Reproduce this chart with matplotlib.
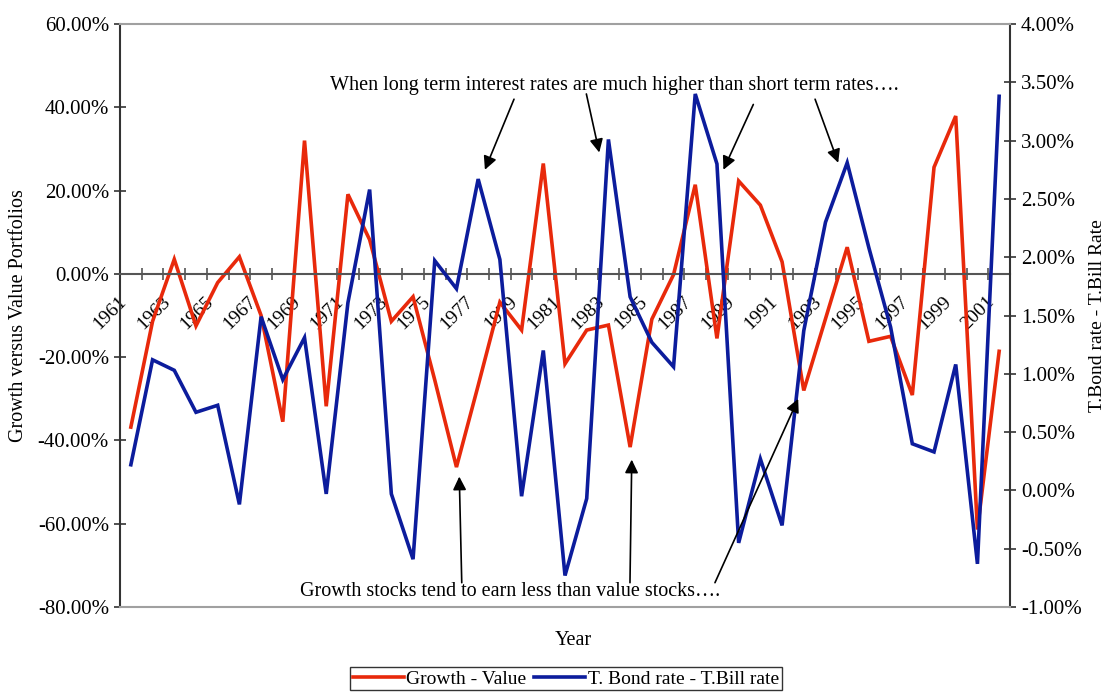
import numpy as np
import matplotlib
matplotlib.use("Agg")
import matplotlib.pyplot as plt
import matplotlib.transforms as mtransforms
from matplotlib.ticker import FuncFormatter

plt.rcParams['font.family'] = ['Liberation Serif', 'DejaVu Serif']

years = list(range(1961, 2002))

# Growth minus value portfolio returns (%)
growth_value = [-36.8, -11.4, 3.5, -12.5, -2.1, 4.1, -10.0, -35.5, 32.0, -31.8,
                19.1, 8.2, -11.4, -5.5, -25.5, -46.4, -26.8, -6.8, -13.5, 26.5,
                -21.6, -13.5, -12.3, -41.6, -10.9, -0.2, 21.4, -15.5, 22.3, 16.5,
                2.9, -28.0, -10.8, 6.4, -16.2, -15.0, -29.1, 25.6, 37.9, -61.4,
                -18.6]

# T.Bond rate minus T.Bill rate (%)
bond_bill = [0.22, 1.12, 1.03, 0.67, 0.73, -0.12, 1.49, 0.95, 1.31, -0.03,
             1.61, 2.58, -0.03, -0.59, 1.97, 1.73, 2.67, 1.98, -0.05, 1.20,
             -0.73, -0.07, 3.01, 1.66, 1.27, 1.06, 3.40, 2.80, -0.45, 0.27,
             -0.30, 1.37, 2.30, 2.81, 2.08, 1.40, 0.40, 0.33, 1.08, -0.63,
             3.38]

left_ticks = [-80, -60, -40, -20, 0, 20, 40, 60]
right_ticks = [-1.0, -0.5, 0.0, 0.5, 1.0, 1.5, 2.0, 2.5, 3.0, 3.5, 4.0]

red = '#e8290b'
blue = '#0c1c9c'
fs = 14.5

fig = plt.figure(figsize=(11.08, 6.92), dpi=100)
ax = fig.add_axes([120 / 1108, 1 - 607 / 692, 890 / 1108, 583 / 692])
ax2 = ax.twinx()

x = np.arange(len(years)) + 0.5
l1, = ax.plot(x, growth_value, color=red, lw=2.6, solid_joinstyle='miter')
l2, = ax2.plot(x, bond_bill, color=blue, lw=2.6, solid_joinstyle='miter')

ax.set_xlim(0, len(years))
ax.set_ylim(-80, 60)
ax2.set_ylim(-1, 4)
ax.set_yticks(left_ticks)
ax2.set_yticks(right_ticks)
ax.yaxis.set_major_formatter(FuncFormatter(lambda v, p: '%.2f%%' % v))
ax2.yaxis.set_major_formatter(FuncFormatter(lambda v, p: '%.2f%%' % v))

# category axis sits on the zero line
ax.spines['bottom'].set_position(('data', 0))
ax.spines['bottom'].set_color('#555555')
ax.spines['bottom'].set_linewidth(1.5)
ax.spines['left'].set_color('#333333')
ax.spines['left'].set_linewidth(1.5)
ax.spines['top'].set_visible(False)
ax.spines['right'].set_visible(False)
ax2.spines['left'].set_visible(False)
for s in ('top', 'bottom'):
    ax2.spines[s].set_color('#a0a0a0')
    ax2.spines[s].set_linewidth(1.5)
ax2.spines['right'].set_color('#333333')
ax2.spines['right'].set_linewidth(1.5)

ax.set_xticks(np.arange(0, len(years) + 1))
ax.set_xticklabels([])
ax.tick_params(axis='x', which='major', direction='inout', length=8,
               width=1.2, color='#555555')
lab_pos = x[::2]
ax.set_xticks(lab_pos, minor=True)
ax.set_xticklabels([str(y) for y in years[::2]], minor=True, rotation=45,
                   ha='right', va='top', rotation_mode='anchor', fontsize=14)
ax.tick_params(axis='x', which='minor', length=0, pad=0)
offset = mtransforms.ScaledTranslation(-0.13, -0.19, fig.dpi_scale_trans)
for lbl in ax.get_xticklabels(minor=True):
    lbl.set_transform(lbl.get_transform() + offset)

ax.tick_params(axis='y', direction='inout', length=8, width=1.2,
               color='#333333', labelsize=15, pad=4)
ax2.tick_params(axis='y', direction='inout', length=8, width=1.2,
                color='#333333', labelsize=15, pad=4)

ax.set_ylabel('Growth versus Value Portfolios', fontsize=fs)
ax.yaxis.set_label_coords(-0.103, 0.5)
ax2.set_ylabel('T.Bond rate - T.Bill Rate', fontsize=14)
ax2.yaxis.set_label_coords(1.089, 0.5)
ax.set_xlabel('Year', fontsize=fs)
ax.xaxis.set_label_coords(0.509, -0.041)

# annotations with arrows (axes fraction)
arrow = dict(arrowstyle='-|>', color='black', lw=1.2, mutation_scale=20,
             shrinkA=0, shrinkB=0)
ax2.text(0.556, 0.895, 'When long term interest rates are much higher than short term rates\u2026.',
         transform=ax2.transAxes, ha='center', va='center', fontsize=fs)
top_arrows = [((0.4427, 0.871), (0.410, 0.750)),
              ((0.524, 0.880), (0.5385, 0.7796)),
              ((0.7116, 0.862), (0.678, 0.750)),
              ((0.781, 0.871), (0.807, 0.762))]
for start, tip in top_arrows:
    ax2.annotate('', xy=tip, xytext=start, xycoords='axes fraction',
                 textcoords='axes fraction', arrowprops=arrow)

ax2.text(0.4387, 0.027, 'Growth stocks tend to earn less than value stocks\u2026.',
         transform=ax2.transAxes, ha='center', va='center', fontsize=fs)
bottom_arrows = [((0.384, 0.0417), (0.3812, 0.2237)),
                 ((0.573, 0.0417), (0.575, 0.2528)),
                 ((0.6685, 0.0417), (0.762, 0.357))]
for start, tip in bottom_arrows:
    ax2.annotate('', xy=tip, xytext=start, xycoords='axes fraction',
                 textcoords='axes fraction', arrowprops=arrow)

leg = fig.legend([l1, l2], ['Growth - Value', 'T. Bond rate - T.Bill rate'],
                 loc='upper center', bbox_to_anchor=(566 / 1108, 1 - 667 / 692),
                 ncol=2, fontsize=14, frameon=True, fancybox=False,
                 edgecolor='black', borderpad=0.15, handlelength=2.6,
                 handletextpad=0.15, columnspacing=0.4, borderaxespad=0)
leg.get_frame().set_linewidth(1.0)

fig.savefig('out.png', dpi=100)
